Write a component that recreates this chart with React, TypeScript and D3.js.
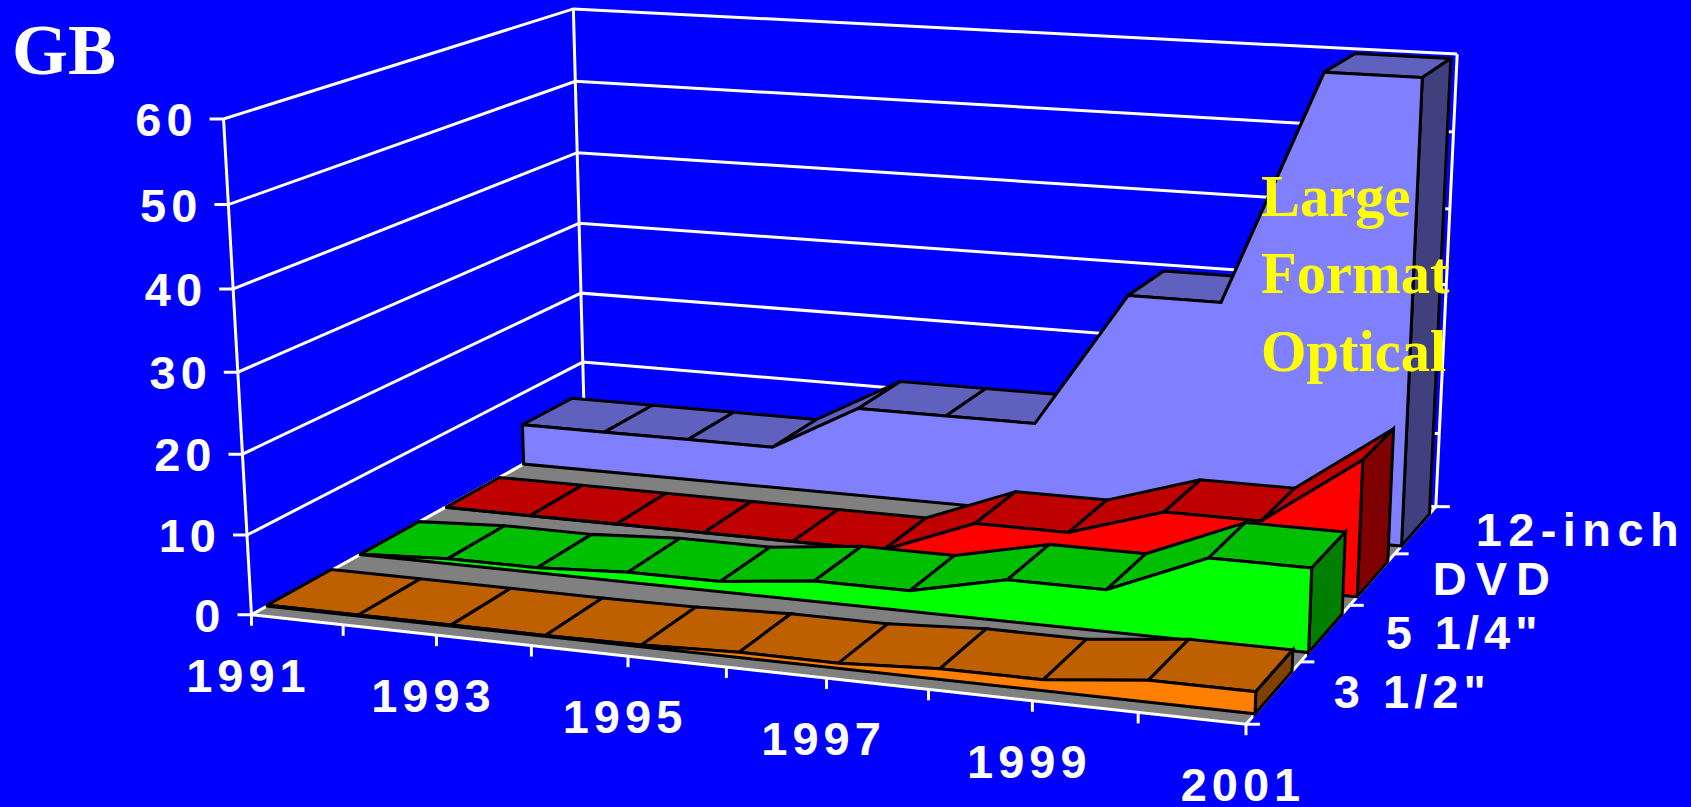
import React from "react";
import * as d3 from "d3";

const years = [1991, 1992, 1993, 1994, 1995, 1996, 1997, 1998, 1999, 2000, 2001];
const seriesNames = ['3 1/2"', '5 1/4"', "DVD", "12-inch"];
const valueTicks = [0, 10, 20, 30, 40, 50, 60];
const yearLabels = [1991, 1993, 1995, 1997, 1999, 2001];

const inch35 = [0.13, 0.13, 0.13, 0.13, 0.23, 0.64, 0.64, 1.3, 1.3, 2.6, 2.6];
const inch525 = [0.05, 0.65, 0.65, 1.3, 1.3, 2.6, 2.6, 5.2, 5.2, 10.3, 10.3];
const dvd = [0, 0, 0, 0, 0, 0, 4.7, 4.7, 8.5, 8.5, 17.3];
const inch12 = [5.6, 5.6, 5.6, 5.6, 12, 12, 12, 30, 30, 60, 60];

const seriesValues = [inch35, inch525, dvd, inch12];
const frontColors = ["#FF8000", "#00FF00", "#FF0000", "#8080FF"];
const topColors = ["#BF6000", "#00BF00", "#BF0000", "#6060BF"];
const sideColors = ["#7F4000", "#007F00", "#7F0000", "#40407F"];
const seriesLabelSpacing = [5, 5, 9, 6.4];

// camera calibration: unit cube corner -> screen point
const cameraPairs: [number[], number[]][] = [
  [[0, 0, 0], [252, 615]],
  [[1, 0, 0], [1246, 724]],
  [[0, 1, 0], [223, 119]],
  [[0, 0, 1], [584, 430]],
  [[1, 0, 1], [1436, 507]],
  [[0, 1, 1], [574, 9]],
  [[1, 1, 1], [1457, 54]],
];

function solveCamera(pairs: [number[], number[]][]) {
  const rows: number[][] = [];
  const rhs: number[] = [];
  for (const [[x, y, z], [u, v]] of pairs) {
    rows.push([x, y, z, 1, 0, 0, 0, 0, -u * x, -u * y, -u * z]);
    rhs.push(u);
    rows.push([0, 0, 0, 0, x, y, z, 1, -v * x, -v * y, -v * z]);
    rhs.push(v);
  }
  const n = 11;
  const A = d3.range(n).map((i) =>
    d3.range(n + 1).map((j) =>
      j < n ? d3.sum(rows, (r) => r[i] * r[j]) : d3.sum(rows, (r, k) => r[i] * rhs[k])
    )
  );
  for (let i = 0; i < n; i++) {
    let piv = i;
    for (let k = i + 1; k < n; k++) if (Math.abs(A[k][i]) > Math.abs(A[piv][i])) piv = k;
    [A[i], A[piv]] = [A[piv], A[i]];
    for (let k = 0; k < n; k++) {
      if (k === i) continue;
      const f = A[k][i] / A[i][i];
      for (let j = i; j <= n; j++) A[k][j] -= f * A[i][j];
    }
  }
  return A.map((r, i) => r[n] / r[i]);
}

const p = solveCamera(cameraPairs);
const project = (x: number, y: number, z: number): [number, number] => {
  const w = p[8] * x + p[9] * y + p[10] * z + 1;
  return [(p[0] * x + p[1] * y + p[2] * z + p[3]) / w, (p[4] * x + p[5] * y + p[6] * z + p[7]) / w];
};

const xScale = d3.scaleLinear().domain([1991, 2001]).range([0, 1]);
const yScale = d3.scaleLinear().domain([0, 60]).range([0, 1]);
const zBand = d3.scaleBand<string>().domain(seriesNames).range([0, 1]).paddingInner(0.32).paddingOuter(0.16);
const pathOf = d3.line<[number, number]>();
const closed = (pts: [number, number][]) => pathOf(pts) + "Z";

const SANS = "'Liberation Sans', Arial, sans-serif";
const SERIF = "'Liberation Serif', 'Times New Roman', serif";
const labelStyle = { fontFamily: SANS, fontWeight: 700, fontSize: 47, fill: "#fff", letterSpacing: 5 } as const;
const captionStyle = { fontFamily: SERIF, fontWeight: 700, fontSize: 58.5, fill: "#FFFF00" } as const;
const captionLines = ["Large", "Format", "Optical"];
const captionBaselines = [216, 293, 371];

export default function App() {
  const floor = closed([project(0, 0, 0), project(1, 0, 0), project(1, 0, 1), project(0, 0, 1)]);
  const white = { stroke: "#fff", strokeWidth: 3, fill: "none" };
  return (
    <svg width={1691} height={807} style={{ position: "absolute", left: 0, top: 0, display: "block" }}>
      <rect width={1691} height={807} fill="#0000FF" />
      {/* walls */}
      {valueTicks.map((v) => {
        const y = yScale(v);
        return (
          <path
            key={v}
            {...white}
            d={pathOf([[project(0, y, 0)[0] - 14, project(0, y, 0)[1]], project(0, y, 0), project(0, y, 1), project(1, y, 1)])!}
          />
        );
      })}
      <path {...white} d={pathOf([project(0, 0, 0), project(0, 1, 0)])!} />
      <path {...white} d={pathOf([project(0, 0, 1), project(0, 1, 1)])!} />
      <path {...white} d={pathOf([project(1, 0, 1), project(1, 1, 1)])!} />
      {/* floor */}
      <path d={floor} fill="#808080" stroke="#fff" strokeWidth={3} />
      {years.map((yr) => {
        const a = project(xScale(yr), 0, 0);
        return <path key={yr} {...white} d={pathOf([a, [a[0], a[1] + 11]])!} />;
      })}
      {d3.range(0, 5).map((i) => {
        const a = project(1, 0, i / 4);
        return <path key={i} {...white} d={pathOf([a, [a[0] + 14, a[1]]])!} />;
      })}
      {/* series, back to front */}
      {seriesNames
        .map((name, s) => ({ name, s }))
        .reverse()
        .map(({ name, s }) => {
          const z0 = zBand(name)!;
          const z1 = z0 + zBand.bandwidth();
          const vals = seriesValues[s];
          const front = years.map((yr, i) => project(xScale(yr), yScale(vals[i]), z0));
          const back = years.map((yr, i) => project(xScale(yr), yScale(vals[i]), z1));
          const last = years.length - 1;
          const frontPoly = closed([project(0, 0, z0), ...front, project(1, 0, z0)]);
          return (
            <g key={name} stroke="#000" strokeWidth={3} strokeLinejoin="miter" strokeMiterlimit={3}>
              {d3.pairs(years.map((_, i) => i)).map(([a, b]) => (
                <path key={a} fill={topColors[s]} d={closed([front[a], front[b], back[b], back[a]])} />
              ))}
              <path
                fill={sideColors[s]}
                d={closed([project(1, 0, z0), front[last], back[last], project(1, 0, z1)])}
              />
              <path fill={frontColors[s]} d={frontPoly} />
            </g>
          );
        })}
      {/* labels */}
      {valueTicks.map((v) => {
        const a = project(0, yScale(v), 0);
        return (
          <text key={v} x={a[0] - 26} y={a[1] + 17} textAnchor="end" {...labelStyle}>
            {v}
          </text>
        );
      })}
      {yearLabels.map((yr) => {
        const a = project(xScale(yr), 0, 0);
        return (
          <text key={yr} x={a[0] - 3} y={a[1] + 77} textAnchor="middle" {...labelStyle}>
            {yr}
          </text>
        );
      })}
      {seriesNames.map((name, s) => {
        const a = project(1, 0, zBand(name)! + zBand.bandwidth() / 2);
        return (
          <text key={name} x={a[0] + 60} y={a[1] + 16} {...labelStyle} letterSpacing={seriesLabelSpacing[s]}>
            {name}
          </text>
        );
      })}
      <text x={12} y={74} fontFamily={SERIF} fontWeight={700} fontSize={72} fill="#fff">
        GB
      </text>
      {captionLines.map((t, i) => (
        <text key={t} x={1261} y={captionBaselines[i]} {...captionStyle}>
          {t}
        </text>
      ))}
    </svg>
  );
}
